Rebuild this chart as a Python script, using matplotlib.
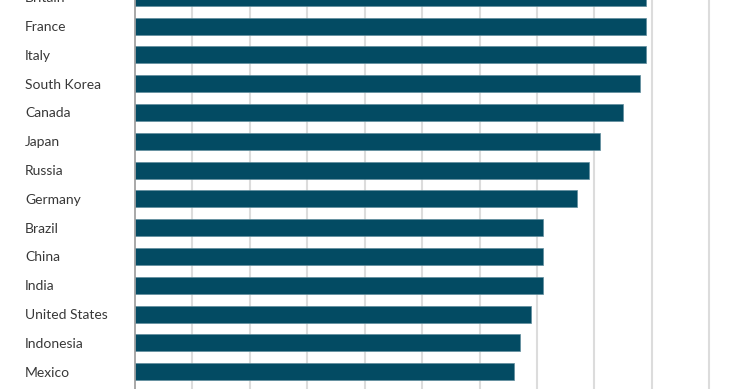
import matplotlib.pyplot as plt
from matplotlib.transforms import blended_transform_factory

countries = ["Britain", "France", "Italy", "South Korea", "Canada", "Japan", "Russia",
             "Germany", "Brazil", "China", "India", "United States", "Indonesia", "Mexico"]
values = [8.9, 8.9, 8.9, 8.8, 8.5, 8.1, 7.9, 7.7, 7.1, 7.1, 7.1, 6.9, 6.7, 6.6]
grid_ticks = list(range(1, 11))

plt.rcParams['font.family'] = ['Lato', 'DejaVu Sans']

fig = plt.figure(figsize=(7.4, 3.89), dpi=100)
ax = fig.add_axes([135 / 740, 0, 1 - 135 / 740, 1])

ypos = list(range(len(countries)))
ax.barh(ypos, values, height=0.59, color='#034b63', edgecolor='#5f8d9c', lw=0.5, zorder=3)

ax.set_xlim(0, 10.535)
ax.set_ylim(13.6, 0.097)
ax.set_xticks(grid_ticks)
ax.xaxis.grid(True, color='#dcdcdc', lw=1.5, zorder=0)
ax.tick_params(left=False, bottom=False, labelleft=False, labelbottom=False)
for s in ['top', 'right', 'bottom']:
    ax.spines[s].set_visible(False)
ax.spines['left'].set_color('#9a9a9a')
ax.spines['left'].set_linewidth(1.2)
ax.spines['left'].set_zorder(4)

trans = blended_transform_factory(fig.transFigure, ax.transData)
for y, name in zip(ypos, countries):
    ax.text(25 / 740, y, name, transform=trans, ha='left', va='center_baseline',
            fontsize=10, color='#383838', clip_on=False)

fig.savefig('out.png', dpi=100)
